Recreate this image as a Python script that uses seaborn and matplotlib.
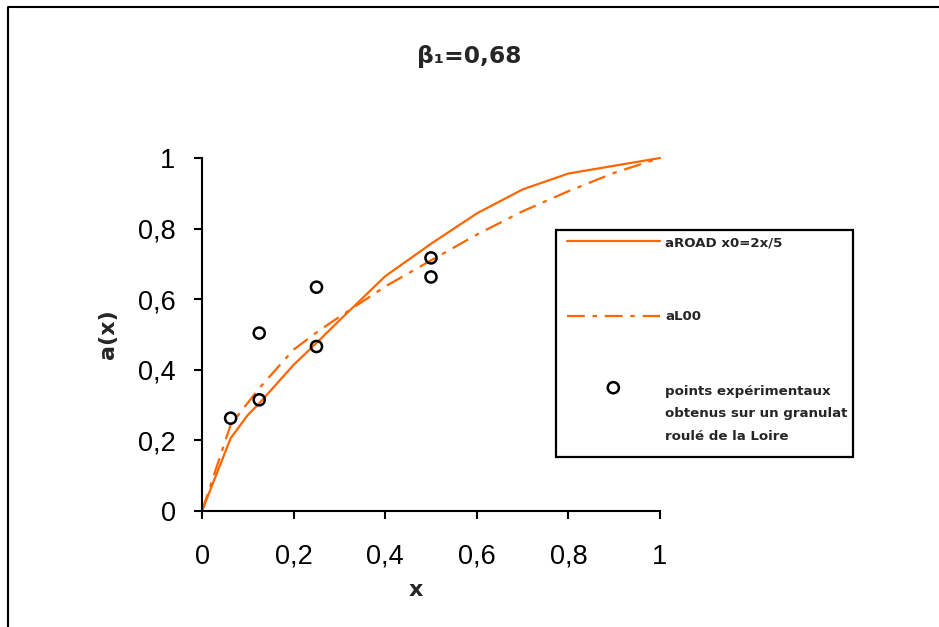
import matplotlib
matplotlib.use("Agg")
import matplotlib.pyplot as plt
import seaborn as sns
import pandas as pd
from matplotlib.collections import PathCollection
from matplotlib.legend_handler import HandlerPathCollection
from matplotlib.lines import Line2D
from matplotlib.patches import Rectangle
from matplotlib.ticker import FuncFormatter

# ---- data ----
x_road = [0, 0.0625, 0.1, 0.125, 0.2, 0.25, 0.3, 0.4, 0.5, 0.6, 0.7, 0.8, 0.9, 1.0]
y_road = [0, 0.206, 0.272, 0.305, 0.414, 0.476, 0.54, 0.665, 0.757, 0.843, 0.911, 0.956, 0.978, 1.0]

x_loo = [0, 0.0625, 0.125, 0.2, 0.25, 0.3, 0.4, 0.5, 0.6, 0.7, 0.8, 0.9, 1.0]
y_loo = [0, 0.244, 0.348, 0.457, 0.506, 0.55, 0.636, 0.71, 0.783, 0.849, 0.906, 0.958, 1.0]

x_exp = [0.0625, 0.125, 0.125, 0.25, 0.25, 0.5, 0.5]
y_exp = [0.263, 0.504, 0.315, 0.634, 0.466, 0.717, 0.663]

ticks = [0, 0.2, 0.4, 0.6, 0.8, 1.0]
label_road = "aROAD x0=2x/5"
label_loo = "aL00"
label_exp = "points expérimentaux\nobtenus sur un granulat\nroulé de la Loire"
title = "β₁=0,68"

ORANGE = "#FF6600"

sns.set_style("white")
plt.rcParams["font.family"] = ["Liberation Sans", "DejaVu Sans"]

W, H = 939, 627
fig = plt.figure(figsize=(W / 100, H / 100), dpi=100)
ax = fig.add_axes([202 / W, 1 - 511 / H, (660 - 202) / W, (511 - 158) / H])

df_road = pd.DataFrame({"x": x_road, "y": y_road})
df_loo = pd.DataFrame({"x": x_loo, "y": y_loo})
df_exp = pd.DataFrame({"x": x_exp, "y": y_exp})

sns.lineplot(data=df_road, x="x", y="y", ax=ax, color=ORANGE, lw=1.6,
             sort=False, estimator=None, label=label_road, clip_on=False)
sns.lineplot(data=df_loo, x="x", y="y", ax=ax, color=ORANGE, lw=1.6,
             sort=False, estimator=None, label=label_loo, clip_on=False,
             linestyle=(0, (8, 3.5, 2, 3.5)))
sns.scatterplot(data=df_exp, x="x", y="y", ax=ax, marker="o", s=64,
                facecolor="none", edgecolor="black", linewidth=1.8,
                label=label_exp, clip_on=False, zorder=5)

ax.set_xlim(0, 1)
ax.set_ylim(0, 1)
ax.set_xticks(ticks)
ax.set_yticks(ticks)
fmt = FuncFormatter(lambda v, p: ("%g" % v).replace(".", ","))
ax.xaxis.set_major_formatter(fmt)
ax.yaxis.set_major_formatter(fmt)

for side in ["top", "right"]:
    ax.spines[side].set_visible(False)
for side in ["left", "bottom"]:
    ax.spines[side].set_color("black")
    ax.spines[side].set_linewidth(1.5)

ax.tick_params(axis="both", which="major", direction="out", length=6, width=1.5,
               color="black", labelsize=19.5, labelcolor="black")
ax.tick_params(axis="y", pad=13)
ax.tick_params(axis="x", pad=17.5)
ax.tick_params(left=True, bottom=True)

ax.set_xlabel("x", fontsize=16, fontweight="bold", family="DejaVu Sans")
ax.set_ylabel("a(x)", fontsize=16, fontweight="bold", family="DejaVu Sans")
ax.xaxis.set_label_coords((416 - 202) / 458, (511 - 580) / 353)
ax.yaxis.set_label_coords((118 - 202) / 458, (511 - 334) / 353)

fig.text(0.5, 1 - 57 / H, title, ha="center", va="center", fontsize=16.8,
         fontweight="bold", family="DejaVu Sans")

# legend
handles, labels = ax.get_legend_handles_labels()
leg = ax.legend(handles, labels, loc="upper left",
                bbox_to_anchor=(567 / W, 1 - 236 / H), bbox_transform=fig.transFigure,
                frameon=False, borderpad=0, borderaxespad=0,
                handlelength=6.95, handletextpad=0.4, labelspacing=4.6,
                prop={"family": "DejaVu Sans", "weight": "bold", "size": 9.6},
                scatterpoints=1,
                handler_map={PathCollection: HandlerPathCollection(yoffsets=[3.35])})
for t in leg.get_texts():
    t.set_linespacing(1.98)

fig.patches.append(Rectangle((556 / W, 1 - 457 / H), (853 - 556) / W, (457 - 230) / H,
                             transform=fig.transFigure, fill=False, edgecolor="black",
                             linewidth=1.6, figure=fig))

# outer frame (top and left)
fig.add_artist(Line2D([8 / W, 8 / W, 1.0], [0.0, 1 - 7 / H, 1 - 7 / H],
                      transform=fig.transFigure, color="black", lw=1.5))

fig.savefig("out.png", dpi=100, facecolor="white")
